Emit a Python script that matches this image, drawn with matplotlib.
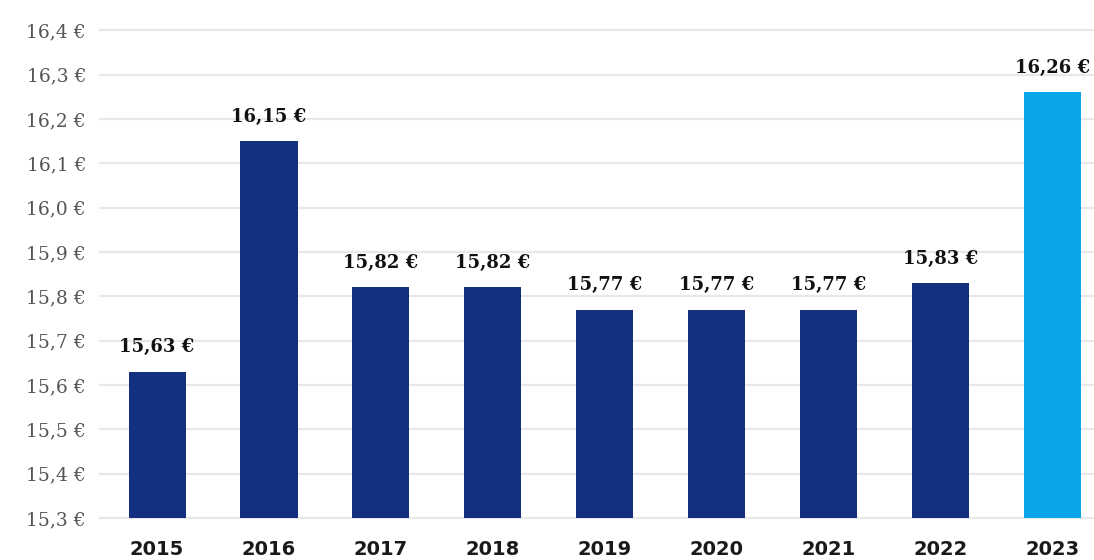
import matplotlib.pyplot as plt

YEARS = ["2015", "2016", "2017", "2018", "2019", "2020", "2021", "2022", "2023"]
PRICES = [15.63, 16.15, 15.82, 15.82, 15.77, 15.77, 15.77, 15.83, 16.26]
Y_TICKS = [15.3, 15.4, 15.5, 15.6, 15.7, 15.8, 15.9, 16.0, 16.1, 16.2, 16.3, 16.4]

NAVY = "#12307f"
LIGHT_BLUE = "#0ba6ea"


def fmt_euro(v, digits):
    return f"{v:.{digits}f}".replace(".", ",") + " €"


def main():
    fig = plt.figure(figsize=(10.94, 5.6), dpi=100)
    ax = fig.add_axes([0.0914, 0.075, 0.9086, 0.871])

    colors = [NAVY] * (len(YEARS) - 1) + [LIGHT_BLUE]
    x = range(len(YEARS))
    base = Y_TICKS[0]
    heights = [p - base for p in PRICES]
    bars = ax.bar(x, heights, bottom=base, width=0.51, color=colors, zorder=3)

    for b, p in zip(bars, PRICES):
        ax.annotate(fmt_euro(p, 2), (b.get_x() + b.get_width() / 2, p),
                    xytext=(0, 11), textcoords="offset points",
                    ha="center", va="bottom", fontsize=13, fontweight="bold",
                    family="DejaVu Serif", color="#111111")

    ax.set_ylim(Y_TICKS[0], Y_TICKS[-1])
    ax.set_xlim(-0.51, len(YEARS) - 1 + 0.37)
    ax.set_yticks(Y_TICKS)
    ax.set_yticklabels([fmt_euro(t, 1) for t in Y_TICKS], family="DejaVu Serif",
                       fontsize=13.5, color="#555555")
    ax.set_xticks(list(x))
    ax.set_xticklabels(YEARS, fontsize=14, fontweight="bold", color="#1a1a1a")

    # horizontal guides, left unclipped so the top one shows in full
    for t in Y_TICKS:
        ax.axhline(t, color="#e8e8e8", linewidth=1.6, zorder=0, clip_on=False)
    ax.tick_params(axis="both", length=0)
    ax.tick_params(axis="y", pad=10)
    ax.tick_params(axis="x", pad=16)
    for s in ax.spines.values():
        s.set_visible(False)

    fig.savefig("out.png", dpi=100)


if __name__ == "__main__":
    main()
